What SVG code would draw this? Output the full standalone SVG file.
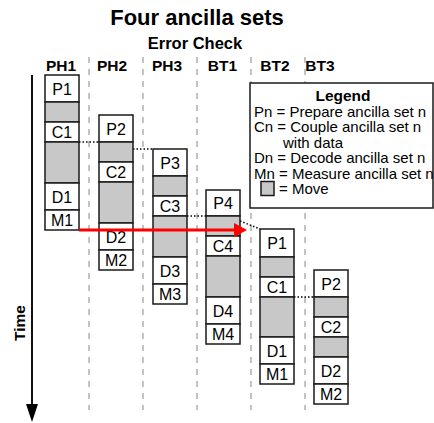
<svg xmlns="http://www.w3.org/2000/svg" width="434" height="423" viewBox="0 0 434 423">
<defs>
<style>
text{font-family:"Liberation Sans",Arial,sans-serif;fill:#000}
.t{font-size:22px;font-weight:bold;text-anchor:middle}
.h{font-size:15.5px;font-weight:bold}
.l{font-size:16px;text-anchor:middle}
.lg{font-size:15px}
.w{fill:#fff;stroke:#1a1a1a;stroke-width:1.5}
.g{fill:#c8c8c8;stroke:#1a1a1a;stroke-width:1.5}
.sep{stroke:#9a9a9a;stroke-width:1.2;stroke-dasharray:6 6;fill:none}
.dot{stroke:#000;stroke-width:1.5;stroke-dasharray:1.5 2;fill:none}
</style>
</defs>
<rect width="434" height="423" fill="#fff"/>
<text class="t" x="197" y="24.5">Four ancilla sets</text>
<text class="h" x="195" y="49" text-anchor="middle" style="font-size:16.5px">Error Check</text>
<g id="headers">
<text class="h" x="61" y="70.5" text-anchor="middle">PH1</text>
<text class="h" x="112" y="70.5" text-anchor="middle">PH2</text>
<text class="h" x="167" y="70.5" text-anchor="middle">PH3</text>
<text class="h" x="222.5" y="70.5" text-anchor="middle">BT1</text>
<text class="h" x="275" y="70.5" text-anchor="middle">BT2</text>
<text class="h" x="320" y="70.5" text-anchor="middle">BT3</text>
</g>
<g id="separators">
<line class="sep" x1="89" y1="57" x2="89" y2="410"/>
<line class="sep" x1="143" y1="57" x2="143" y2="410"/>
<line class="sep" x1="197" y1="57" x2="197" y2="410"/>
<line class="sep" x1="251" y1="57" x2="251" y2="410"/>
<line class="sep" x1="305" y1="57" x2="305" y2="410"/>
</g>
<g id="time-axis">
<line x1="32" y1="75" x2="32" y2="406" stroke="#111" stroke-width="2"/>
<polygon points="26,404 38,404 32,422" fill="#000"/>
<text class="h" transform="translate(25,323) rotate(-90)" text-anchor="middle">Time</text>
</g>
<g id="legend">
<rect x="250" y="83" width="183" height="125" fill="#fff" stroke="#1a1a1a" stroke-width="1.5"/>
<text class="h" x="343" y="100.5" text-anchor="middle">Legend</text>
<text class="lg" x="254" y="116.5">Pn = Prepare ancilla set n</text>
<text class="lg" x="254" y="132">Cn = Couple ancilla set n</text>
<text class="lg" x="283" y="147.5">with data</text>
<text class="lg" x="254" y="163">Dn = Decode ancilla set n</text>
<text class="lg" x="254" y="178.5">Mn = Measure ancilla set n</text>
<rect class="g" x="261" y="181.5" width="13" height="14"/>
<text class="lg" x="279" y="194">= Move</text>
</g>
<g id="connectors">
<line class="dot" x1="79" y1="142" x2="99" y2="142"/>
<line class="dot" x1="133" y1="149" x2="153" y2="149"/>
<line class="dot" x1="187" y1="216" x2="206" y2="216"/>
<line class="dot" x1="240" y1="221" x2="260" y2="229"/>
<line class="dot" x1="294" y1="297" x2="314" y2="297"/>
</g>
<g id="PH1">
<rect class="w" x="45" y="75" width="34" height="27"/><text class="l" x="62" y="94.5">P1</text>
<rect class="g" x="45" y="102" width="34" height="20"/>
<rect class="w" x="45" y="122" width="34" height="20"/><text class="l" x="62" y="138">C1</text>
<rect class="g" x="45" y="142" width="34" height="41"/>
<rect class="w" x="45" y="183" width="34" height="27"/><text class="l" x="62" y="202.5">D1</text>
<rect class="w" x="45" y="210" width="34" height="20"/><text class="l" x="62" y="226">M1</text>
</g>
<g id="PH2">
<rect class="w" x="99" y="115" width="34" height="27"/><text class="l" x="116" y="134.5">P2</text>
<rect class="g" x="99" y="142" width="34" height="20"/>
<rect class="w" x="99" y="162" width="34" height="20"/><text class="l" x="116" y="178">C2</text>
<rect class="g" x="99" y="182" width="34" height="41"/>
<rect class="w" x="99" y="223" width="34" height="27"/><text class="l" x="116" y="242.5">D2</text>
<rect class="w" x="99" y="250" width="34" height="20"/><text class="l" x="116" y="266">M2</text>
</g>
<g id="PH3">
<rect class="w" x="153" y="149" width="34" height="27"/><text class="l" x="170" y="168.5">P3</text>
<rect class="g" x="153" y="176" width="34" height="20"/>
<rect class="w" x="153" y="196" width="34" height="20"/><text class="l" x="170" y="212">C3</text>
<rect class="g" x="153" y="216" width="34" height="41"/>
<rect class="w" x="153" y="257" width="34" height="27"/><text class="l" x="170" y="276.5">D3</text>
<rect class="w" x="153" y="284" width="34" height="20"/><text class="l" x="170" y="300">M3</text>
</g>
<g id="BT1">
<rect class="w" x="206" y="190" width="34" height="26"/><text class="l" x="223" y="209">P4</text>
<rect class="g" x="206" y="216" width="34" height="20"/>
<rect class="w" x="206" y="236" width="34" height="20"/><text class="l" x="223" y="252">C4</text>
<rect class="g" x="206" y="256" width="34" height="41"/>
<rect class="w" x="206" y="297" width="34" height="27"/><text class="l" x="223" y="316.5">D4</text>
<rect class="w" x="206" y="324" width="34" height="20"/><text class="l" x="223" y="340">M4</text>
</g>
<g id="BT2">
<rect class="w" x="260" y="229" width="34" height="28"/><text class="l" x="277" y="249">P1</text>
<rect class="g" x="260" y="257" width="34" height="20"/>
<rect class="w" x="260" y="277" width="34" height="20"/><text class="l" x="277" y="293">C1</text>
<rect class="g" x="260" y="297" width="34" height="40"/>
<rect class="w" x="260" y="337" width="34" height="27"/><text class="l" x="277" y="356.5">D1</text>
<rect class="w" x="260" y="364" width="34" height="20"/><text class="l" x="277" y="380">M1</text>
</g>
<g id="BT3">
<rect class="w" x="314" y="270" width="34" height="27"/><text class="l" x="331" y="289.5">P2</text>
<rect class="g" x="314" y="297" width="34" height="20"/>
<rect class="w" x="314" y="317" width="34" height="20"/><text class="l" x="331" y="333">C2</text>
<rect class="g" x="314" y="337" width="34" height="20"/>
<rect class="w" x="314" y="357" width="34" height="27"/><text class="l" x="331" y="376.5">D2</text>
<rect class="w" x="314" y="384" width="34" height="20"/><text class="l" x="331" y="400">M2</text>
</g>
<g id="red-arrow">
<line x1="79" y1="230" x2="235" y2="230" stroke="#f00" stroke-width="3"/>
<polygon points="234,223 247,230 234,237" fill="#f00"/>
</g>
</svg>
